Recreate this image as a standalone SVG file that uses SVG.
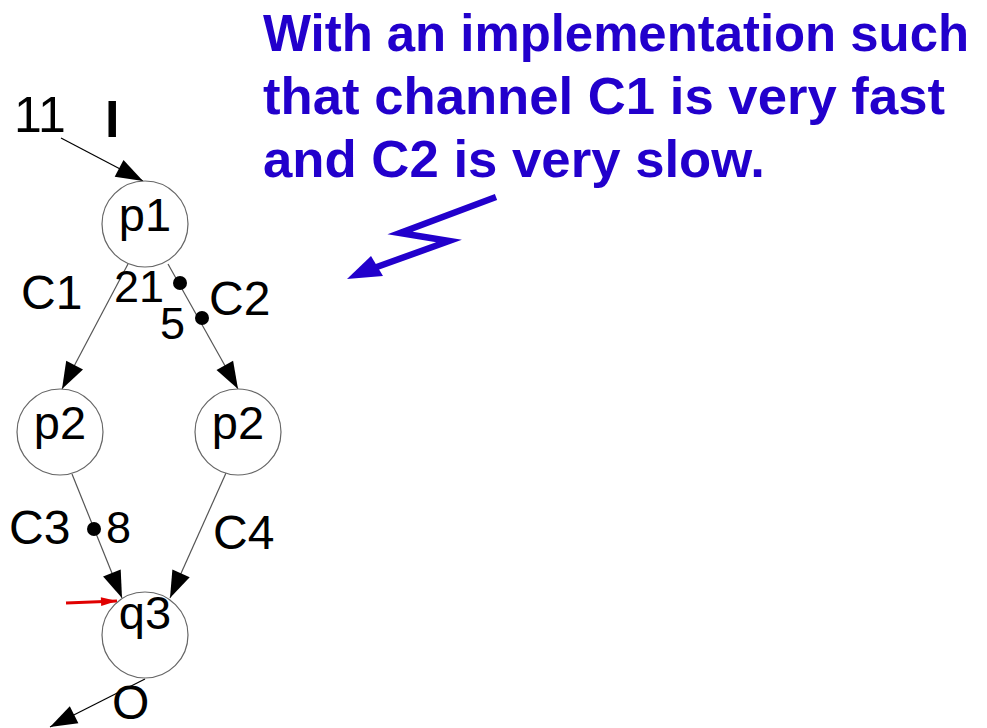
<svg xmlns="http://www.w3.org/2000/svg" width="987" height="728" viewBox="0 0 987 728">
<style>
.lbl{font-family:"Liberation Sans",Arial,sans-serif;font-size:48px;fill:#000}
.nd{font-family:"Liberation Sans",Arial,sans-serif;font-size:47px;fill:#000;text-anchor:middle}
.node circle{fill:#fff;stroke:#666;stroke-width:1.2}
.edge{fill:none;stroke:#555;stroke-width:1.2}
.blue{font-family:"Liberation Sans",Arial,sans-serif;font-size:52px;font-weight:bold;fill:#2200cc}
</style>
<defs>
<marker id="ah" markerUnits="userSpaceOnUse" markerWidth="27" markerHeight="19" refX="27" refY="9.5" orient="auto" overflow="visible">
<path d="M0,0 L27,9.5 L0,19 z" fill="#000"/>
</marker>
<marker id="ahr" markerUnits="userSpaceOnUse" markerWidth="16" markerHeight="9" refX="16" refY="4.5" orient="auto" overflow="visible">
<path d="M0,0 L16,4.5 L0,9 z" fill="#e00000"/>
</marker>
</defs>
<rect width="987" height="728" fill="#fff"/>

<g id="annotation">
<text class="blue" x="263" y="51" textLength="706" lengthAdjust="spacingAndGlyphs">With an implementation such</text>
<text class="blue" x="263" y="114" textLength="682" lengthAdjust="spacingAndGlyphs">that channel C1 is very fast</text>
<text class="blue" x="263" y="177" textLength="502" lengthAdjust="spacingAndGlyphs">and C2 is very slow.</text>
<polyline points="496,197 400,233 449,241 374,268" fill="none" stroke="#2200cc" stroke-width="6.5" stroke-linejoin="miter" stroke-miterlimit="10"/>
<polygon points="371,256 383,276 347,279" fill="#2200cc"/>
</g>

<g id="connectors">
<line class="edge" x1="61" y1="138" x2="143" y2="181" style="stroke:#000" marker-end="url(#ah)"/>
<line class="edge" x1="128" y1="264" x2="62" y2="389" marker-end="url(#ah)"/>
<line class="edge" x1="168" y1="264" x2="238" y2="389" marker-end="url(#ah)"/>
<line class="edge" x1="72" y1="474" x2="122" y2="598" marker-end="url(#ah)"/>
<line class="edge" x1="226" y1="473" x2="170" y2="598" marker-end="url(#ah)"/>
<line class="edge" x1="145" y1="679" x2="50" y2="727" style="stroke:#000" marker-end="url(#ah)"/>
<line x1="66" y1="603" x2="117" y2="601" stroke="#e00000" stroke-width="3.2" marker-end="url(#ahr)"/>
<circle cx="180" cy="283" r="7" fill="#000"/>
<circle cx="202" cy="318" r="7" fill="#000"/>
<circle cx="94" cy="529" r="7" fill="#000"/>
</g>

<g id="p1" class="node"><circle cx="145" cy="224" r="43"/><text class="nd" x="145" y="231">p1</text></g>
<g id="p2a" class="node"><circle cx="60" cy="432" r="43"/><text class="nd" x="60" y="439">p2</text></g>
<g id="p2b" class="node"><circle cx="238" cy="432" r="43"/><text class="nd" x="238" y="439">p2</text></g>
<g id="q3" class="node"><circle cx="145" cy="635" r="43"/><text class="nd" x="145" y="629">q3</text></g>

<g id="labels">
<text class="lbl" x="14" y="132" style="font-size:50px">11</text>
<text class="lbl" x="105" y="137" style="font-weight:bold;font-size:52px">I</text>
<text class="lbl" x="21" y="309">C1</text>
<text class="lbl" x="114" y="302" style="font-size:45px">21</text>
<text class="lbl" x="160" y="339" style="font-size:45px">5</text>
<text class="lbl" x="209" y="315">C2</text>
<text class="lbl" x="9" y="544">C3</text>
<text class="lbl" x="106" y="543" style="font-size:45px">8</text>
<text class="lbl" x="213" y="549">C4</text>
<text class="lbl" x="112" y="719">O</text>
</g>
</svg>
